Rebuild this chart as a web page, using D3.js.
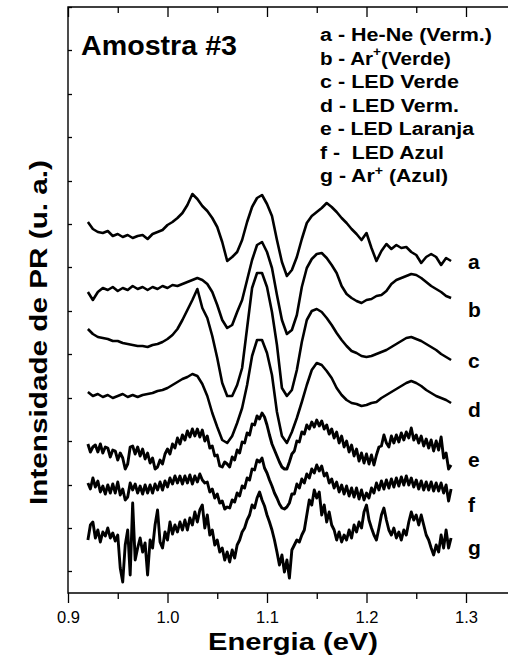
<!DOCTYPE html>
<html><head><meta charset="utf-8">
<script src="https://cdn.jsdelivr.net/npm/d3@7"></script>
<style>html,body{margin:0;padding:0;background:#fff;} svg{display:block;}</style>
</head><body><svg id="chart" width="508" height="659"></svg>
<script>
// ---------- DATA ----------
const energyStart = 0.92;      // eV, first sample
const smoothStep = 0.005;      // eV, sampling of curves a-d
const noisyStep = 0.0025;      // eV, sampling of curves e-g

const xTicksMajor = [0.9, 1.0, 1.1, 1.2, 1.3];
const xTicksMinor = [0.95, 1.05, 1.15, 1.25, 1.35];
const yTicks = [22, 65, 108, 152, 195, 239, 282, 326, 369, 412, 456, 499, 543, 586];

const curveNames = ["a", "b", "c", "d", "e", "f", "g"];
const legendTexts = ["a - He-Ne (Verm.)", "b - Ar", "c - LED Verde", "d - LED Verm.",
                     "e - LED Laranja", "f -  LED Azul", "g - Ar"];
const legendTails = [null, "(Verde)", null, null, null, null, " (Azul)"];
const sampleTitle = "Amostra #3";
const xTitle = "Energia (eV)";
const yTitle = "Intensidade de PR (u. a.)";

// intensities (arbitrary units, curves already vertically offset)
const seriesA = [371,364,361,360,362,357,359,356,358,355,357,358,354,359,361,363,368,371,375,380,
  388,399,394,387,382,375,366,351,332,336,341,353,371,386,395,398,389,377,353,331,
  317,323,336,354,370,377,381,385,390,386,381,375,370,364,359,353,360,345,332,342,
  349,344,348,345,346,341,338,330,336,339,336,328,335,332];
const seriesB = [301,293,301,305,303,306,302,305,303,307,304,306,303,306,304,307,305,308,307,309,
  311,313,315,313,309,301,288,273,265,268,281,293,313,333,348,351,341,325,298,273,
  259,263,278,306,325,334,339,340,335,328,320,307,299,295,292,290,293,294,297,298,
  302,309,313,315,317,319,318,315,311,307,304,301,297,295];
const seriesC = [264,259,256,255,254,252,252,250,249,248,247,247,246,248,249,251,254,258,264,273,
  283,293,304,285,275,257,235,210,197,197,208,225,265,305,320,320,306,281,248,205,
  197,203,223,251,273,282,284,281,275,268,260,253,247,242,240,237,236,237,239,241,
  243,246,249,252,255,256,254,252,249,246,243,239,236,233];
const seriesD = [201,197,199,196,198,195,197,199,196,198,196,198,199,200,202,203,205,208,211,214,
  216,219,217,209,197,180,166,153,150,157,170,185,208,237,253,253,240,218,181,157,
  150,161,175,191,208,223,230,228,222,215,205,198,193,190,189,187,188,190,191,195,
  198,201,204,207,210,212,210,207,203,200,197,195,193,190];
const seriesE = [149,141,146,148,141,149,140,146,145,136,143,142,133,140,135,124,129,146,147,139,
  146,137,144,134,140,130,135,124,126,133,129,139,144,139,149,145,155,149,158,153,
  162,156,164,157,164,156,163,152,157,145,147,137,138,127,126,131,129,126,136,133,
  143,140,151,150,160,158,169,168,177,174,180,176,168,158,149,143,137,131,126,124,
  124,131,139,142,152,151,161,159,168,164,171,166,173,167,172,164,168,159,164,155,
  161,150,157,146,152,141,148,137,144,132,140,130,139,129,138,128,138,146,147,158,
  150,146,157,150,158,151,160,153,161,155,165,153,158,150,157,147,154,145,153,142,
  152,143,156,135,140,124,128];
const seriesF = [110,104,115,106,112,101,107,99,108,100,109,100,111,98,104,93,96,110,103,109,
  100,107,99,108,100,108,100,109,103,111,103,112,106,115,109,117,110,117,109,117,
  110,118,109,117,111,119,113,110,111,101,104,95,99,90,92,84,86,85,93,91,
  100,97,107,105,115,113,124,123,133,131,135,125,120,113,107,100,95,89,85,84,
  86,90,99,99,109,105,114,110,119,115,124,120,128,122,127,117,120,110,114,105,
  111,101,108,99,107,97,105,96,105,94,103,93,100,95,105,100,110,103,112,104,
  113,105,114,106,115,107,116,108,117,108,115,106,113,104,112,103,111,103,111,102,
  110,102,110,100,108,92,104];
const seriesG = [53,68,71,55,63,51,61,57,65,55,60,52,58,25,11,48,63,18,90,33,
  45,55,41,50,18,53,45,68,83,51,45,61,53,71,59,68,61,71,63,73,
  63,75,68,81,71,83,88,65,78,58,63,48,53,41,45,33,41,31,43,35,
  48,53,61,65,73,78,88,85,95,101,93,87,78,71,63,53,41,28,38,21,
  33,15,43,48,53,51,58,63,78,93,88,103,95,101,78,88,71,81,68,63,
  53,61,51,58,53,63,55,68,61,71,65,81,88,73,65,58,53,65,78,85,
  73,63,58,65,55,61,53,63,58,71,81,73,78,68,78,68,58,53,45,38,
  48,41,58,45,63,45,55];

// ---------- LAYOUT ----------
const W = 508, H = 659;
const plot = {left: 68, right: 515.75, top: 7, bottom: 593};
const FONT = "'Liberation Sans', Arial, Helvetica, sans-serif";

const svg = d3.select("#chart");
svg.append("rect").attr("width", W).attr("height", H).attr("fill", "#fff");

const x = d3.scaleLinear().domain([0.9, 1.35]).range([plot.left, plot.right]);
const y = d3.scaleLinear().domain([0, 586]).range([plot.bottom, plot.top]);

// curves
const seriesList = [
  {v: seriesA, step: smoothStep, w: 2.6},
  {v: seriesB, step: smoothStep, w: 2.6},
  {v: seriesC, step: smoothStep, w: 2.6},
  {v: seriesD, step: smoothStep, w: 2.6},
  {v: seriesE, step: noisyStep, w: 2.9},
  {v: seriesF, step: noisyStep, w: 2.9},
  {v: seriesG, step: noisyStep, w: 2.9}
];
const line = d3.line().x(d => x(d[0])).y(d => y(d[1]));
const gCurves = svg.append("g");
seriesList.forEach(s => {
  const pts = s.v.map((val, i) => [energyStart + i * s.step, val]);
  gCurves.append("path").attr("d", line(pts))
    .attr("fill", "none").attr("stroke", "#000")
    .attr("stroke-width", s.w).attr("stroke-linejoin", "round");
});

// axes
const axisStyle = g => {
  g.selectAll(".domain").remove();
  g.selectAll("line").attr("stroke", "#000").attr("stroke-width", 1.3);
  g.selectAll("text").attr("font-family", FONT).attr("font-size", 16.5).attr("fill", "#000");
};
svg.append("g").attr("transform", `translate(0,${plot.bottom})`)
  .call(d3.axisBottom(x).tickValues(xTicksMajor).tickSize(10).tickPadding(8).tickFormat(d3.format(".1f")))
  .call(axisStyle);
svg.append("g").attr("transform", `translate(0,${plot.bottom})`)
  .call(d3.axisBottom(x).tickValues(xTicksMinor).tickSize(6).tickFormat(""))
  .call(axisStyle);
svg.append("g").attr("transform", `translate(0,${plot.top})`)
  .call(d3.axisTop(x).tickValues(xTicksMajor).tickSize(-10).tickFormat(""))
  .call(axisStyle);
svg.append("g").attr("transform", `translate(0,${plot.top})`)
  .call(d3.axisTop(x).tickValues(xTicksMinor).tickSize(-6).tickFormat(""))
  .call(axisStyle);
svg.append("g").attr("transform", `translate(${plot.left},0)`)
  .call(d3.axisLeft(y).tickValues(yTicks).tickSize(-4).tickFormat(""))
  .call(axisStyle);

// frame
svg.append("path")
  .attr("d", `M${W + 2},${plot.top}H${plot.left}V${plot.bottom}H${W + 2}`)
  .attr("fill", "none").attr("stroke", "#000").attr("stroke-width", 1.4);

// titles
svg.append("text").text(xTitle)
  .attr("x", 208).attr("y", 650)
  .attr("textLength", 170).attr("lengthAdjust", "spacingAndGlyphs")
  .attr("font-family", FONT).attr("font-weight", "bold").attr("font-size", 24);
svg.append("text").text(yTitle)
  .attr("transform", "translate(47,505) rotate(-90)")
  .attr("textLength", 345).attr("lengthAdjust", "spacingAndGlyphs")
  .attr("font-family", FONT).attr("font-weight", "bold").attr("font-size", 24);
svg.append("text").text(sampleTitle)
  .attr("x", 81).attr("y", 55)
  .attr("textLength", 156).attr("lengthAdjust", "spacingAndGlyphs")
  .attr("font-family", FONT).attr("font-weight", "bold").attr("font-size", 27);

// legend text block
const legendWidths = [172, 131, 139, 139, 154, 124, 128];
const legendBaselines = [41, 64.5, 88, 111.5, 135, 158.5, 182];
const supRaise = [0, 9, 0, 0, 0, 0, 7];
legendTexts.forEach((t, i) => {
  const txt = svg.append("text")
    .attr("x", 320).attr("y", legendBaselines[i])
    .attr("font-family", FONT).attr("font-weight", "bold").attr("font-size", 18)
    .attr("style", "white-space:pre")
    .attr("textLength", legendWidths[i]).attr("lengthAdjust", "spacingAndGlyphs");
  if (legendTails[i]) {
    txt.append("tspan").text(t);
    txt.append("tspan").text("+").attr("font-size", 12).attr("dy", -supRaise[i]);
    txt.append("tspan").text(legendTails[i]).attr("dy", supRaise[i]);
  } else {
    txt.text(t);
  }
});

// curve labels
const labelE = 1.302;
const labelV = [324, 276, 225, 176, 126, 81, 38];
curveNames.forEach((n, i) => {
  svg.append("text").text(n)
    .attr("x", x(labelE)).attr("y", y(labelV[i]))
    .attr("font-family", FONT).attr("font-weight", "bold").attr("font-size", 21);
});
</script></body></html>
